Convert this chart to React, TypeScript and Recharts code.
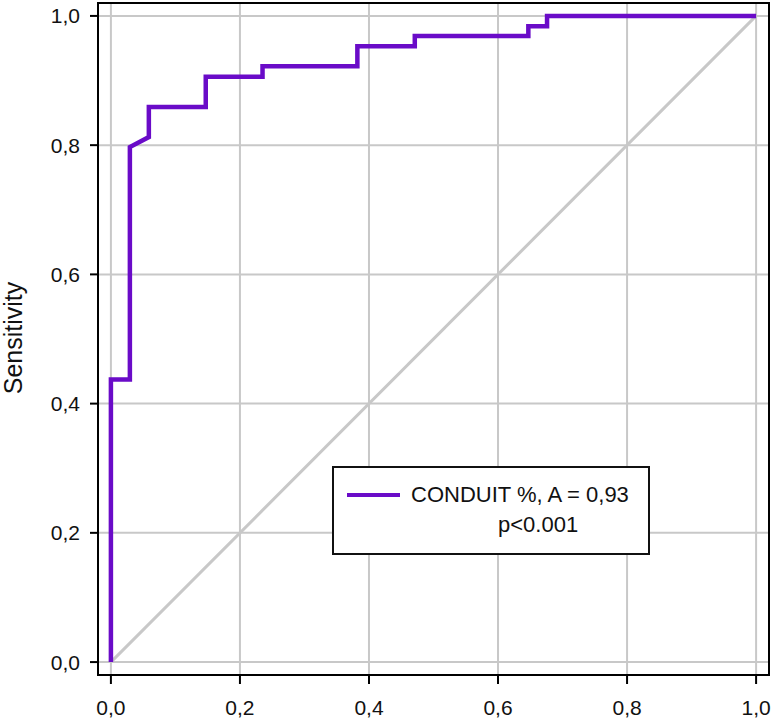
import React from 'react';
import {
  LineChart,
  Line,
  XAxis,
  YAxis,
  CartesianGrid,
  ReferenceArea,
  Legend,
} from 'recharts';

// 1 - specificity (false positive rate) for each vertex of the ROC curve
const fpr = [0, 0, 0.0294, 0.0294, 0.0588, 0.0588, 0.147, 0.147, 0.235, 0.235, 0.382, 0.382, 0.471, 0.471, 0.647, 0.647, 0.676, 0.676, 1];
// sensitivity (true positive rate) for each vertex
const tpr = [0, 0.4375, 0.4375, 0.797, 0.8125, 0.859, 0.859, 0.906, 0.906, 0.922, 0.922, 0.953, 0.953, 0.969, 0.969, 0.984, 0.984, 1, 1];

const refX = [0, 1];
const refY = [0, 1];

const ticks = [0, 0.2, 0.4, 0.6, 0.8, 1];

const seriesName = 'CONDUIT %, A = 0,93';
const pText = 'p<0.001';
const yLabel = 'Sensitivity';

const rocData = fpr.map((x, i) => ({ x, y: tpr[i] }));
const refData = refX.map((x, i) => ({ x, y: refY[i] }));

const FONT = '"Liberation Sans", Arial, sans-serif';
const PURPLE = '#6a0bc8';
const GRID = '#c8c8c8';

const fmt = (v: number) => v.toFixed(1).replace('.', ',');

const LegendBox = () => (
  <svg width={318} height={89} style={{ display: 'block' }}>
    <rect x={1} y={1} width={316} height={87} fill="#fff" stroke="#111" strokeWidth={2} />
    <line x1={15} x2={68} y1={29} y2={29} stroke={PURPLE} strokeWidth={4} />
    <text x={79} y={36} fontFamily={FONT} fontSize={22} fill="#111">
      {seriesName}
    </text>
    <text x={166} y={66} fontFamily={FONT} fontSize={22} fill="#111">
      {pText}
    </text>
  </svg>
);

export default function App() {
  return (
    <div style={{ position: 'absolute', left: 0, top: 0, width: 774, height: 720, background: '#fff' }}>
      <LineChart width={774} height={720} margin={{ top: 3, right: 5, bottom: 0, left: 0 }}>
        <CartesianGrid stroke={GRID} strokeWidth={2} />
        <XAxis
          type="number"
          dataKey="x"
          domain={[-0.02, 1.02]}
          ticks={ticks}
          allowDataOverflow
          tickFormatter={fmt}
          height={45}
          tickSize={9}
          tickMargin={16}
          axisLine={{ stroke: '#000', strokeWidth: 2 }}
          tickLine={{ stroke: '#000', strokeWidth: 2 }}
          tick={{ fill: '#111', fontSize: 21, fontFamily: FONT }}
        />
        <YAxis
          type="number"
          dataKey="y"
          domain={[-0.02, 1.02]}
          ticks={ticks}
          allowDataOverflow
          tickFormatter={fmt}
          width={98}
          tickSize={8}
          tickMargin={10}
          axisLine={{ stroke: '#000', strokeWidth: 2 }}
          tickLine={{ stroke: '#000', strokeWidth: 2 }}
          tick={{ fill: '#111', fontSize: 21, fontFamily: FONT }}
          label={{
            content: () => (
              <text
                transform="translate(22,338) rotate(-90)"
                textAnchor="middle"
                fontFamily={FONT}
                fontSize={25}
                fill="#111"
              >
                {yLabel}
              </text>
            ),
          }}
        />
        <ReferenceArea
          x1={-0.02}
          x2={1.02}
          y1={-0.02}
          y2={1.02}
          fill="none"
          fillOpacity={0}
          stroke="#000"
          strokeWidth={2}
          ifOverflow="visible"
        />
        <Line
          data={refData}
          dataKey="y"
          type="linear"
          stroke={GRID}
          strokeWidth={3}
          dot={false}
          activeDot={false}
          isAnimationActive={false}
          legendType="none"
        />
        <Line
          data={rocData}
          dataKey="y"
          name={seriesName}
          type="linear"
          stroke={PURPLE}
          strokeWidth={4.5}
          dot={false}
          activeDot={false}
          isAnimationActive={false}
        />
        <Legend
          layout="horizontal"
          verticalAlign="middle"
          align="center"
          content={() => <LegendBox />}
          wrapperStyle={{ position: 'absolute', left: 332, top: 466, width: 318, height: 89 }}
        />
      </LineChart>
    </div>
  );
}
